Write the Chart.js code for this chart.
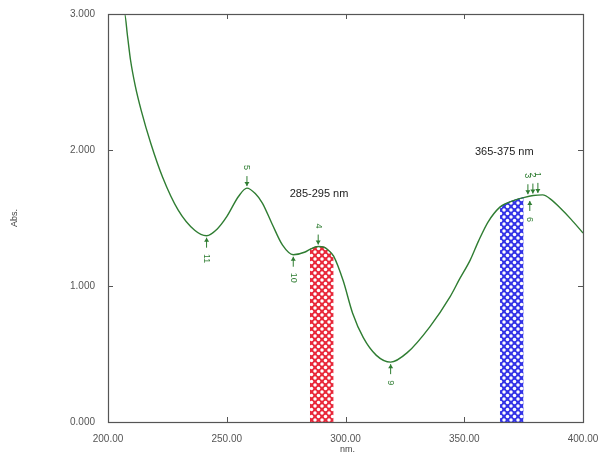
<!DOCTYPE html>
<html>
<head>
<meta charset="utf-8">
<script src="https://cdn.jsdelivr.net/npm/chart.js@4.4.0/dist/chart.umd.min.js"></script>
<style>
html,body{margin:0;padding:0;background:#fff;}
#wrap{width:603px;height:462px;position:relative;}
</style>
</head>
<body>
<div id="wrap"><canvas id="c" width="603" height="462"></canvas></div>
<script>
// ---- data ----
const wavelengths = [200,204,207,208.2,209.5,211.5,214,218,223,229.5,236.5,241.5,246,250,255,258.5,262,265,269,273.5,278,283,285,288.5,291,293,295,299,303,307.5,313,319,326,335.5,344,348,352.5,356,360,365,368,371,375,379,383,387,390,395,400];
const absorbance  = [3.0,3.0,3.0,2.84,2.66,2.47,2.29,2.05,1.80,1.56,1.41,1.37,1.42,1.51,1.66,1.72,1.68,1.61,1.46,1.30,1.23,1.25,1.27,1.29,1.285,1.26,1.22,1.04,0.80,0.62,0.49,0.44,0.51,0.70,0.92,1.05,1.19,1.33,1.47,1.58,1.61,1.63,1.65,1.665,1.67,1.63,1.58,1.49,1.39];
const xTickValues = [200,250,300,350,400];
const yTickValues = [0,1,2,3];
const redBand  = [285,295];
const blueBand = [365,375];
const bandLabels = ["285-295 nm","365-375 nm"];
const bandLabelPos = [[276.5,1.68],[354.5,1.985]]; // [nm, abs] of label's left/middle
const markerWl    = [241.5,258.5,278,288.5,319,376.8,378.9,381,377.6];
const markerAbs   = [1.37,1.72,1.23,1.29,0.44,1.66,1.665,1.67,1.64];
const markerLabel = ["11","5","10","4","9","3","2","1","6"];
const markerUp    = [false,true,false,true,false,true,true,true,false]; // true: label above (peak)

function bandData(r){
  const out=[];
  for(let i=0;i<wavelengths.length;i++){
    if(wavelengths[i]>=r[0] && wavelengths[i]<=r[1]) out.push({x:wavelengths[i],y:absorbance[i]});
  }
  return out;
}
function makePattern(color){
  const n=7;
  const t=document.createElement('canvas'); t.width=n; t.height=n;
  const g=t.getContext('2d');
  g.fillStyle=color; g.fillRect(0,0,n,n);
  g.fillStyle='#ffffff';
  const pts=[[n/2,n/2],[0,0],[n,0],[0,n],[n,n]];
  pts.forEach(p=>{g.beginPath();g.arc(p[0],p[1],1.75,0,Math.PI*2);g.fill();});
  return document.getElementById('c').getContext('2d').createPattern(t,'repeat');
}

const lineColor = '#2f7d32';
const mainData = wavelengths.map((w,i)=>({x:w,y:absorbance[i]}));

const deco = {
  id:'deco',
  afterDatasetsDraw(chart){
    const ctx=chart.ctx, a=chart.chartArea, xs=chart.scales.x, ys=chart.scales.y;
    ctx.save();
    // frame
    ctx.strokeStyle='#555'; ctx.lineWidth=1.2;
    ctx.strokeRect(a.left+0.5,a.top+0.5,a.right-a.left,a.bottom-a.top);
    // inward ticks
    ctx.lineWidth=1;
    xTickValues.forEach(v=>{
      const px=Math.round(xs.getPixelForValue(v))+0.5;
      ctx.beginPath();ctx.moveTo(px,a.bottom);ctx.lineTo(px,a.bottom-5);ctx.stroke();
      ctx.beginPath();ctx.moveTo(px,a.top);ctx.lineTo(px,a.top+5);ctx.stroke();
    });
    yTickValues.forEach(v=>{
      const py=Math.round(ys.getPixelForValue(v))+0.5;
      ctx.beginPath();ctx.moveTo(a.left,py);ctx.lineTo(a.left+5,py);ctx.stroke();
      ctx.beginPath();ctx.moveTo(a.right,py);ctx.lineTo(a.right-5,py);ctx.stroke();
    });
    // axis titles
    ctx.fillStyle='#444'; ctx.font='9px "Liberation Sans", Arial';
    ctx.textAlign='center'; ctx.textBaseline='middle';
    ctx.fillText('nm.', (a.left+a.right)/2+2, a.bottom+28);
    ctx.save(); ctx.translate(15,(a.top+a.bottom)/2); ctx.rotate(-Math.PI/2);
    ctx.fillText('Abs.',0,0); ctx.restore();
    // band labels
    ctx.fillStyle='#222'; ctx.font='11px "Liberation Sans", Arial';
    ctx.textAlign='left';
    bandLabels.forEach((t,i)=>{
      ctx.fillText(t, xs.getPixelForValue(bandLabelPos[i][0]), ys.getPixelForValue(bandLabelPos[i][1]));
    });
    // peak / valley markers
    ctx.strokeStyle=lineColor; ctx.fillStyle=lineColor; ctx.lineWidth=1;
    ctx.font='9px "Liberation Sans", Arial';
    markerWl.forEach((w,i)=>{
      const px=xs.getPixelForValue(w), py=ys.getPixelForValue(markerAbs[i]);
      const up=markerUp[i];
      const s=up?-1:1;
      const tip=py+s*2, end=py+s*12;
      ctx.beginPath();ctx.moveTo(px,tip);ctx.lineTo(px,end);ctx.stroke();
      ctx.beginPath();ctx.moveTo(px,tip);ctx.lineTo(px-2.5,tip+s*4);ctx.lineTo(px+2.5,tip+s*4);ctx.closePath();ctx.fill();
      ctx.save(); ctx.translate(px,py+s*(18+markerLabel[i].length*2.5)); ctx.rotate(Math.PI/2);
      ctx.textAlign='center'; ctx.textBaseline='middle';
      ctx.fillText(markerLabel[i],0,0); ctx.restore();
    });
    ctx.restore();
  }
};

new Chart(document.getElementById('c'),{
  type:'line',
  data:{datasets:[
    {data:mainData,borderColor:lineColor,borderWidth:1.4,pointRadius:0,cubicInterpolationMode:'monotone',fill:false},
    {data:bandData(redBand),borderColor:'#e0202e',borderWidth:1,pointRadius:0,cubicInterpolationMode:'monotone',fill:'origin',backgroundColor:makePattern('#e8283a')},
    {data:bandData(blueBand),borderColor:'#2a2ae0',borderWidth:1,pointRadius:0,cubicInterpolationMode:'monotone',fill:'origin',backgroundColor:makePattern('#3434e6')}
  ]},
  options:{
    responsive:false,animation:false,
    layout:{padding:{left:0,right:20,top:14,bottom:0}},
    plugins:{legend:{display:false},tooltip:{enabled:false}},
    scales:{
      x:{type:'linear',min:200,max:400,
        afterBuildTicks(s){s.ticks=xTickValues.map(v=>({value:v}));},
        afterFit(s){s.height=40;},
        grid:{display:false},border:{display:false},
        ticks:{color:'#555',font:{size:10,family:'"Liberation Sans", Arial'},padding:3,maxRotation:0,callback:v=>Number(v).toFixed(2)}},
      y:{type:'linear',min:0,max:3,
        afterBuildTicks(s){s.ticks=yTickValues.map(v=>({value:v}));},
        afterFit(s){s.width=108;},
        grid:{display:false},border:{display:false},
        ticks:{color:'#555',font:{size:10,family:'"Liberation Sans", Arial'},padding:5,callback:v=>Number(v).toFixed(3)}}
    }
  },
  plugins:[deco]
});
</script>
</body>
</html>
